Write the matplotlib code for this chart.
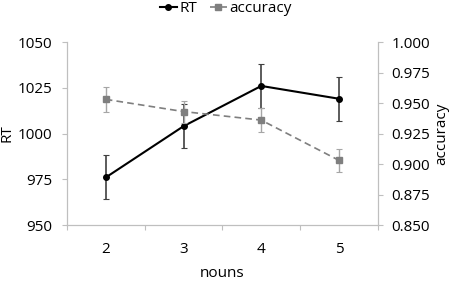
import matplotlib
matplotlib.use("Agg")
import matplotlib.pyplot as plt
from matplotlib.lines import Line2D

# =================
# DANE
# =================
nouns = [2, 3, 4, 5]
rt = [976, 1004, 1026, 1019]
rt_err = [12, 12, 12, 12]
accuracy = [0.953, 0.943, 0.936, 0.903]
acc_err = [0.010, 0.009, 0.010, 0.0095]

plt.rcParams["font.family"] = ["Open Sans", "DejaVu Sans"]
plt.rcParams["font.size"] = 11

spine_col = "#bfbfbf"
acc_col = "#7f7f7f"
acc_ls = (0, (4, 2.5))

fig = plt.figure(figsize=(4.52, 2.82), dpi=100)
ax = fig.add_axes([0.148, 0.202, 0.688, 0.649])
ax2 = ax.twinx()

# RT
ax.errorbar(nouns, rt, yerr=rt_err, color="black", marker="o", markersize=4,
            linewidth=1.5, ecolor="#404040", elinewidth=1.2, capsize=2, capthick=0.8,
            zorder=3)
# accuracy
ax2.errorbar(nouns, accuracy, yerr=acc_err, color=acc_col, marker="s", markersize=4,
             linewidth=1.2, linestyle=acc_ls, ecolor="#a6a6a6", elinewidth=1.0,
             capsize=2, capthick=0.8, zorder=2)

ax.set_xlim(1.5, 5.5)
ax.set_ylim(950, 1050)
ax.set_yticks([950, 975, 1000, 1025, 1050])
acc_ticks = [0.85, 0.875, 0.9, 0.925, 0.95, 0.975, 1.0]
ax2.set_ylim(0.85, 1.0)
ax2.set_yticks(acc_ticks)
ax2.set_yticklabels([f"{v:.3f}" for v in acc_ticks])

ax.set_xticks(nouns)
ax.set_xticks([1.5, 2.5, 3.5, 4.5, 5.5], minor=True)
ax.tick_params(axis="x", which="major", length=0, pad=12)
ax.tick_params(axis="x", which="minor", length=3.6, color=spine_col, width=0.8)
ax.tick_params(axis="y", length=3.6, color=spine_col, width=0.8, pad=7)
ax2.tick_params(axis="y", length=3.6, color=spine_col, width=0.8, pad=6)

for a in (ax, ax2):
    a.spines["top"].set_visible(False)
    for s in ("left", "right", "bottom"):
        a.spines[s].set_color(spine_col)
        a.spines[s].set_linewidth(0.8)

ax.set_ylabel("RT", labelpad=2)
ax2.set_ylabel("accuracy", labelpad=3)
ax.set_xlabel("nouns", labelpad=7)

h1 = Line2D([], [], color="black", marker="o", markersize=4, linewidth=1.5)
h2 = Line2D([], [], color=acc_col, marker="s", markersize=4, linewidth=1.2, linestyle=acc_ls)
fig.legend([h1, h2], ["RT", "accuracy"], loc="upper center", bbox_to_anchor=(0.5, 1.045),
           ncol=2, frameon=False, handlelength=1.1, handletextpad=0.2, columnspacing=0.8)

fig.savefig("out.png", dpi=100)
